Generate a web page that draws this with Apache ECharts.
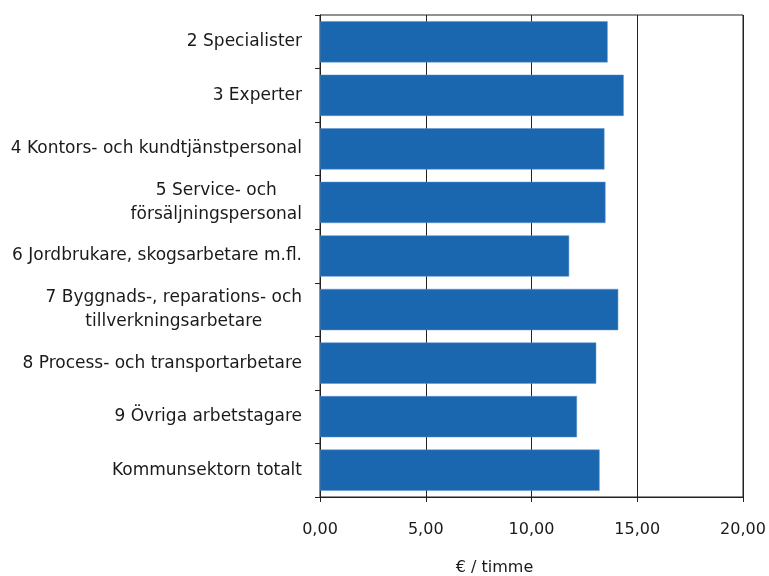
<!DOCTYPE html>
<html>
<head>
<meta charset="utf-8">
<script src="https://cdn.jsdelivr.net/npm/echarts@6/dist/echarts.min.js"></script>
<style>
  html, body { margin: 0; padding: 0; background: #fff; }
  #chart { width: 769px; height: 576px; }
</style>
</head>
<body>
<div id="chart"></div>
<script>
// Yrkesgrupper (uppifrån och ned)
const categories = [
    '2 Specialister',
    '3 Experter',
    '4 Kontors- och kundtjänstpersonal',
    '5 Service- och\nförsäljningspersonal',
    '6 Jordbrukare, skogsarbetare m.fl.',
    '7 Byggnads-, reparations- och\ntillverkningsarbetare',
    '8 Process- och transportarbetare',
    '9 Övriga arbetstagare',
    'Kommunsektorn totalt'
];

// Timlön, € / timme
const values = [13.60, 14.36, 13.45, 13.50, 11.78, 14.10, 13.06, 12.15, 13.22];

const xTicks = [0, 5, 10, 15, 20];

const textColor = '#1a1a1a';
const lineColor = '#222';
const fontFamily = '"DejaVu Sans", Verdana, sans-serif';

const chart = echarts.init(document.getElementById('chart'));

const option = {
    backgroundColor: '#fff',
    animation: false,
    grid: {
        left: 320,
        right: 26,
        top: 15,
        bottom: 79,
        outerBoundsMode: 'none',
        containLabel: false,
        show: true,
        borderColor: lineColor,
        borderWidth: 1,
        backgroundColor: 'transparent'
    },
    xAxis: {
        type: 'value',
        min: xTicks[0],
        max: xTicks[xTicks.length - 1],
        interval: 5,
        name: '€ / timme',
        nameLocation: 'middle',
        nameGap: 63,
        nameTextStyle: {
            color: textColor,
            fontSize: 16,
            fontFamily: fontFamily,
            padding: [0, 74, 0, 0]
        },
        axisLine: { show: true, lineStyle: { color: lineColor } },
        axisTick: { show: true, length: 5, lineStyle: { color: lineColor } },
        axisLabel: {
            color: textColor,
            fontSize: 16,
            fontFamily: fontFamily,
            margin: 25
        },
        splitLine: { show: true, lineStyle: { color: lineColor, width: 1 } }
    },
    yAxis: {
        type: 'category',
        data: categories,
        inverse: true,
        axisLine: { show: true, lineStyle: { color: lineColor } },
        axisTick: { show: true, length: 5, alignWithLabel: false, lineStyle: { color: lineColor } },
        axisLabel: {
            color: textColor,
            fontSize: 17,
            fontFamily: fontFamily,
            lineHeight: 24,
            align: 'right',
            margin: 18,
            interval: 0,
            // block right-aligned, lines centred inside it
            formatter: v => v.split('\n').map(s => '{c|' + s + '}').join('\n'),
            rich: {
                c: {
                    align: 'center',
                    color: textColor,
                    fontSize: 17,
                    fontFamily: fontFamily,
                    lineHeight: 24
                }
            }
        },
        splitLine: { show: false }
    },
    series: [
        {
            type: 'bar',
            data: values,
            barCategoryGap: '23%',
            itemStyle: {
                color: '#1a67b0',
                borderColor: '#5b93cc',
                borderWidth: 0.5
            }
        }
    ]
};

// x tick labels with decimal comma
option.xAxis.axisLabel.formatter = v => v.toFixed(2).replace('.', ',');

chart.setOption(option);
</script>
</body>
</html>
